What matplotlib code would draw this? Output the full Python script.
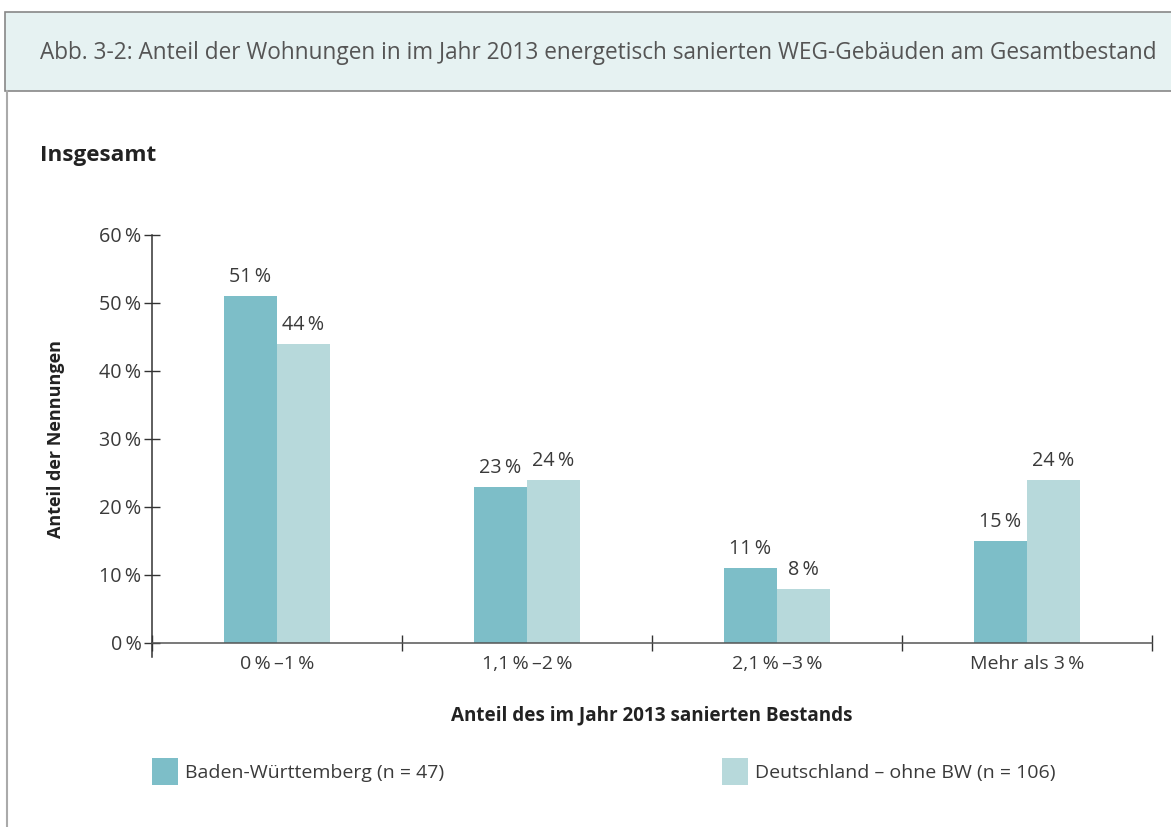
import matplotlib
matplotlib.use("Agg")
import matplotlib.pyplot as plt
from matplotlib.patches import Rectangle
from matplotlib.lines import Line2D

plt.rcParams['font.family'] = ['Open Sans', 'DejaVu Sans']

categories = ['0\u2009%\u2009–1\u2009%', '1,1\u2009%\u2009–2\u2009%', '2,1\u2009%\u2009–3\u2009%', 'Mehr als 3\u2009%']
bw_values = [51, 23, 11, 15]
de_values = [44, 24, 8, 24]
series_names = ['Baden-Württemberg (n = 47)', 'Deutschland – ohne BW (n = 106)']
y_ticks = [0, 10, 20, 30, 40, 50, 60]

col_bw = '#7dbec8'
col_de = '#b7d9db'
txt = '#3a3a3a'

W, H = 1171, 827
fig = plt.figure(figsize=(W / 100, H / 100), dpi=100)

# header box + left frame line
fig.patches.append(Rectangle((5 / W, 1 - 91 / H), 1.0, 79 / H, transform=fig.transFigure,
                             facecolor='#e6f2f2', edgecolor='#888888', lw=1.2))
fig.lines.append(Line2D([7 / W, 7 / W], [0, 1 - 91 / H], transform=fig.transFigure,
                        color='#aaaaaa', lw=1.5))
fig.text(40 / W, 1 - 53 / H, 'Abb. 3-2: Anteil der Wohnungen in im Jahr 2013 energetisch sanierten WEG-Gebäuden am Gesamtbestand',
         fontsize=16.3, color='#555555', va='center', ha='left')
fig.text(40 / W, 1 - 155 / H, 'Insgesamt', fontsize=16.2, fontweight='bold', color='#222222', va='center')

ax = fig.add_axes([152 / W, 1 - 643 / H, 1000 / W, 408 / H])
n = len(categories)
xs = list(range(n))
bw = 0.212
ax.bar([x - bw / 2 for x in xs], bw_values, width=bw, color=col_bw, zorder=2)
ax.bar([x + bw / 2 for x in xs], de_values, width=bw, color=col_de, zorder=2)
for x, v in zip(xs, bw_values):
    ax.text(x - bw / 2, v + 2.8, f'{v}\u2009%', ha='center', va='center', fontsize=14.2, color=txt)
for x, v in zip(xs, de_values):
    ax.text(x + bw / 2, v + 2.8, f'{v}\u2009%', ha='center', va='center', fontsize=14.2, color=txt)

ax.set_xlim(-0.5, n - 0.5)
ax.set_ylim(0, 60)
for s in ['top', 'right']:
    ax.spines[s].set_visible(False)
ax.spines['left'].set_color('#333333')
ax.spines['bottom'].set_color('#555555')
ax.spines['left'].set_linewidth(1.1)
ax.spines['bottom'].set_linewidth(1.1)
# left axis runs a bit below zero
ax.plot([-0.5, -0.5], [0, -2], color='#333333', lw=1.1, clip_on=False)

ax.set_yticks(y_ticks)
ax.set_yticklabels([f'{t}\u2009%' for t in y_ticks])
ax.tick_params(axis='y', direction='inout', length=11, width=1, colors='#333333',
               labelsize=14.2, labelcolor=txt, pad=2)
ax.set_xticks([x - 0.5 for x in range(n + 1)])
ax.set_xticklabels([])
ax.tick_params(axis='x', which='major', direction='inout', length=12, width=1, colors='#333333')
ax.set_xticks(xs, minor=True)
ax.set_xticklabels(categories, minor=True)
ax.tick_params(axis='x', which='minor', length=0, labelsize=14, labelcolor=txt, pad=8.5)

ax.set_ylabel('Anteil der Nennungen', fontsize=13, fontweight='bold', color='#222222')
ax.yaxis.set_label_coords(-0.087, 0.5)
fig.text(652 / W, 1 - 715 / H, 'Anteil des im Jahr 2013 sanierten Bestands', ha='center', va='center',
         fontsize=13.6, fontweight='bold', color='#222222')

# legend
for lx, col, name in [(152, col_bw, series_names[0]), (722, col_de, series_names[1])]:
    fig.patches.append(Rectangle((lx / W, 1 - 785 / H), 26 / W, 27 / H, transform=fig.transFigure,
                                 facecolor=col, edgecolor='none'))
    fig.text((lx + 33) / W, 1 - 773 / H, name, fontsize=14, color=txt, va='center', ha='left')

fig.savefig('out.png', dpi=100)
